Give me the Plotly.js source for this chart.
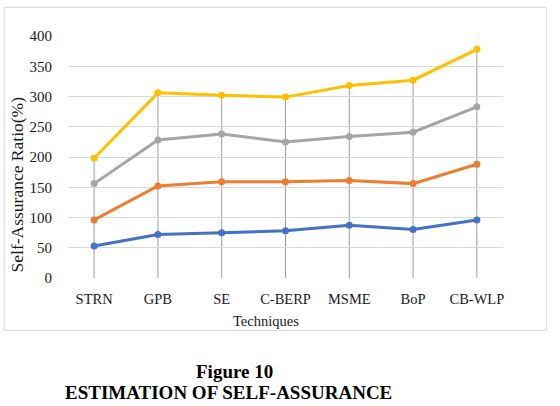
<!DOCTYPE html>
<html>
<head>
<meta charset="utf-8">
<script src="https://cdn.plot.ly/plotly-3.0.1.min.js"></script>
<style>html,body{margin:0;padding:0;background:#fff;}#chart{width:560px;height:406px;}</style>
</head>
<body>
<div id="chart"></div>
<script>
var categories = ["STRN", "GPB", "SE", "C-BERP", "MSME", "BoP", "CB-WLP"];
var series1 = [53, 72, 75, 78, 87, 80, 96];
var series2 = [96, 152, 159, 159, 161, 156, 188];
var series3 = [156, 228, 238, 225, 234, 241, 283];
var series4 = [198, 306, 302, 299, 318, 327, 378];
var yTicks = [0, 50, 100, 150, 200, 250, 300, 350, 400];

var colors = ["#4472C4", "#ED7D31", "#A5A5A5", "#FFC000"];
var allSeries = [series1, series2, series3, series4];
var names = ["Series1", "Series2", "Series3", "Series4"];

var traces = allSeries.map(function (s, i) {
  return {
    x: categories, y: s, name: names[i], type: "scatter", mode: "lines+markers",
    line: {color: colors[i], width: 3},
    marker: {color: colors[i], size: 7},
    hoverinfo: "skip"
  };
});

// drop lines from the highest series to the axis
var shapes = categories.map(function (c, j) {
  var top = Math.max(series1[j], series2[j], series3[j], series4[j]);
  return {type: "line", xref: "x", yref: "y", x0: c, x1: c, y0: 0, y1: top,
          line: {color: "#9e9e9e", width: 1}, layer: "below"};
});
// chart area border
shapes.push({type: "rect", xref: "paper", yref: "paper",
  x0: -0.1468, x1: 1.0995, y0: -0.2164, y1: 1.1187,
  line: {color: "#d6d6d6", width: 1}, fillcolor: "rgba(0,0,0,0)", layer: "below"});

var serif = "Liberation Serif, Times New Roman, serif";
var layout = {
  width: 560, height: 406,
  margin: {l: 68.2, r: 56.6, t: 36, b: 128.3},
  paper_bgcolor: "#ffffff", plot_bgcolor: "#ffffff",
  showlegend: false,
  font: {family: serif, color: "#1a1a1a"},
  xaxis: {
    type: "category", showgrid: false, zeroline: false, showline: false,
    ticks: "outside", ticklen: 8, tickcolor: "rgba(0,0,0,0)",
    tickfont: {family: serif, size: 14.5, color: "#1a1a1a"},
    fixedrange: true
  },
  yaxis: {
    range: [0, 400], tickvals: yTicks, ticktext: yTicks.map(String),
    showgrid: true, gridcolor: "#d9d9d9", gridwidth: 1, zeroline: false, showline: false,
    ticks: "outside", ticklen: 12, tickcolor: "rgba(0,0,0,0)",
    tickfont: {family: serif, size: 15, color: "#1a1a1a"},
    fixedrange: true
  },
  shapes: shapes,
  annotations: [
    {text: "Self-Assurance Ratio(%)", xref: "paper", yref: "paper", x: -0.1165, y: 0.388,
     xanchor: "center", yanchor: "middle", textangle: -90, showarrow: false,
     font: {family: serif, size: 17.5, color: "#1a1a1a"}},
    {text: "Techniques", xref: "paper", yref: "paper", x: 0.456, y: -0.178,
     xanchor: "center", yanchor: "middle", showarrow: false,
     font: {family: serif, size: 14.5, color: "#1a1a1a"}},
    {text: "<b>Figure 10</b>", xref: "paper", yref: "paper", x: 0.383, y: -0.386,
     xanchor: "center", yanchor: "middle", showarrow: false,
     font: {family: serif, size: 19, color: "#000000"}},
    {text: "<b>ESTIMATION OF SELF-ASSURANCE</b>", xref: "paper", yref: "paper", x: 0.369, y: -0.473,
     xanchor: "center", yanchor: "middle", showarrow: false,
     font: {family: serif, size: 19, color: "#000000"}}
  ]
};

Plotly.newPlot("chart", traces, layout, {displayModeBar: false, staticPlot: true});
</script>
</body>
</html>
